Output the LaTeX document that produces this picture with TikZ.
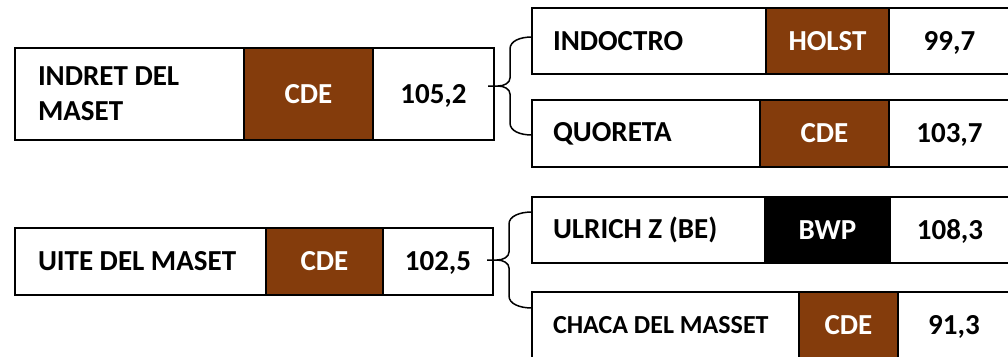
\documentclass[tikz,border=0pt]{standalone}
\usepackage{fontspec}
\setmainfont{Carlito}
\usetikzlibrary{calc}
\definecolor{cellbrown}{HTML}{843C0C}
\newcommand\bracedraw[3]{%
  \draw[bracel] (#1) .. controls +(-12,0) and +(0,-8) .. ($(#2 |- #1)+(22,12)$)
    -- ($(#2)+(22,-8)$) .. controls +(0,5) and +(6,0) .. ($(#2)+(10,0)$) -- (#2)
    -- ($(#2)+(10,0)$) .. controls +(6,0) and +(0,-5) .. ($(#2)+(22,8)$)
    -- ($(#2 |- #3)+(22,-12)$) .. controls +(0,8) and +(-12,0) .. (#3);}
\begin{document}
\begin{tikzpicture}[x=1pt,y=-1pt,
  cell/.style={draw=black, line width=2.5pt, inner sep=0pt, outer sep=0pt, fill=white,
    font=\fontsize{29}{35}\selectfont\bfseries, text height=18.7pt, text depth=0pt},
  dark/.style={cell, fill=cellbrown, text=white},
  blk/.style={cell, fill=black, text=white},
  lbl/.style={inner sep=0pt, outer sep=0pt, anchor=west, align=left,
    font=\fontsize{29}{35}\selectfont\bfseries},
  bracel/.style={draw=black, line width=1.5pt}]
\clip (0,0) rectangle (1008,356);
% Row A
\node[cell, minimum width=229pt, minimum height=92pt] (A1) at (129.5,94) {};
\node[dark, minimum width=129pt, minimum height=92pt] (A2) at (308.5,94) {CDE};
\node[cell, minimum width=121pt, minimum height=92pt] (A3) at (433.5,94) {105,2};
\node[lbl] (A1t) at ([xshift=23pt]A1.west) {INDRET DEL\\MASET};
% Row B
\node[cell, minimum width=234pt, minimum height=66pt] (B1) at (649,41) {};
\node[dark, minimum width=123pt, minimum height=66pt] (B2) at (827.5,41) {HOLST};
\node[cell, minimum width=121pt, minimum height=66pt] (B3) at (949.5,41) {99,7};
\node[lbl] (B1t) at ([xshift=21pt]B1.west) {INDOCTRO};
% Row C
\node[cell, minimum width=228pt, minimum height=67pt] (C1) at (646,133.5) {};
\node[dark, minimum width=129pt, minimum height=67pt] (C2) at (824.5,133.5) {CDE};
\node[cell, minimum width=121pt, minimum height=67pt] (C3) at (949.5,133.5) {103,7};
\node[lbl] (C1t) at ([xshift=21pt]C1.west) {QUORETA};
% Row D
\node[cell, minimum width=251pt, minimum height=67pt] (D1) at (140.5,261.5) {};
\node[dark, minimum width=117pt, minimum height=67pt] (D2) at (324.5,261.5) {CDE};
\node[cell, minimum width=110pt, minimum height=67pt] (D3) at (438,261.5) {102,5};
\node[lbl] (D1t) at ([xshift=23pt]D1.west) {UITE DEL MASET};
% Row E
\node[cell, minimum width=233pt, minimum height=66pt] (E1) at (648.5,230) {};
\node[blk, minimum width=125pt, minimum height=66pt] (E2) at (827.5,230) {BWP};
\node[cell, minimum width=120pt, minimum height=66pt] (E3) at (950,230) {108,3};
\node[lbl] (E1t) at ([xshift=21pt]E1.west) {ULRICH Z (BE)};
% Row F
\node[cell, minimum width=267pt, minimum height=67pt] (F1) at (665.5,325.5) {};
\node[dark, minimum width=99pt, minimum height=67pt] (F2) at (848.5,325.5) {CDE};
\node[cell, minimum width=112pt, minimum height=67pt] (F3) at (954,325.5) {91,3};
\node[lbl, font=\fontsize{26}{32}\selectfont\bfseries] (F1t) at ([xshift=21pt]F1.west) {CHACA DEL MASSET};
% Braces
\coordinate (b1top) at ([yshift=4pt]B1.west);
\coordinate (b1bot) at ([yshift=-1.5pt]C1.west);
\path ($(b1top)!0.5!(b1bot)$) coordinate (b1m);
\coordinate (b1tip) at ($(A3.east |- b1m)+(-6,0)$);
\bracedraw{b1top}{b1tip}{b1bot}
\coordinate (b2top) at ([yshift=18pt]E1.west);
\coordinate (b2bot) at ([yshift=17.5pt]F1.west);
\path ($(b2top)!0.5!(b2bot)$) coordinate (b2m);
\coordinate (b2tip) at ($(D3.east |- b2m)+(-6,0)$);
\bracedraw{b2top}{b2tip}{b2bot}
\end{tikzpicture}
\end{document}
